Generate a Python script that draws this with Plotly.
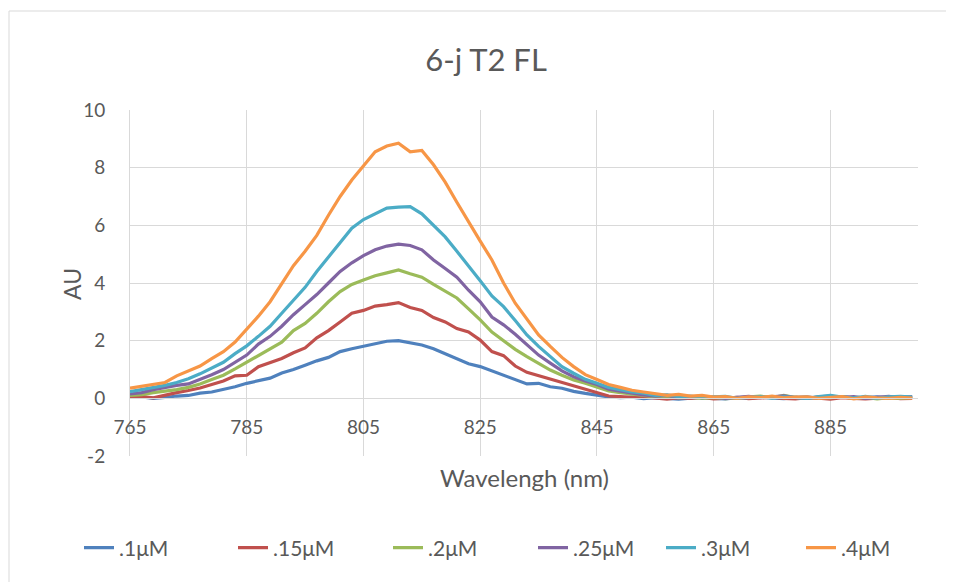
import plotly.graph_objects as go

# ── Data (2 nm steps) ───────────────────────────────────────────────────────────
wavelength = list(range(765, 901, 2))

au_01 = [0.10, 0.06, 0.00, 0.03, 0.08, 0.10, 0.18, 0.22, 0.30, 0.40,
         0.52, 0.62, 0.70, 0.88, 1.00, 1.15, 1.30, 1.42, 1.62, 1.72,
         1.80, 1.90, 1.98, 2.00, 1.92, 1.85, 1.72, 1.55, 1.38, 1.20,
         1.10, 0.95, 0.82, 0.65, 0.50, 0.52, 0.40, 0.35, 0.24, 0.17,
         0.10, 0.05, 0.02, 0.04, -0.01, 0.02, 0.00, -0.03, 0.01, 0.03,
         0.00, -0.02, 0.02, 0.00, 0.04, 0.01, -0.01, 0.03, 0.05, 0.00,
         0.02, 0.06, 0.01, 0.03, 0.05, 0.02, 0.06, 0.04]

au_015 = [0.05, 0.06, 0.02, 0.12, 0.20, 0.27, 0.36, 0.48, 0.60, 0.78,
          0.80, 1.10, 1.25, 1.38, 1.58, 1.75, 2.10, 2.35, 2.65, 2.95,
          3.05, 3.20, 3.25, 3.32, 3.15, 3.05, 2.80, 2.65, 2.42, 2.30,
          2.02, 1.62, 1.48, 1.12, 0.90, 0.78, 0.68, 0.55, 0.42, 0.32,
          0.20, 0.08, 0.06, 0.03, 0.05, 0.00, -0.03, 0.02, 0.00, 0.03,
          -0.02, 0.01, 0.03, -0.01, 0.02, 0.04, 0.00, -0.02, 0.02, 0.01,
          -0.03, 0.02, 0.00, -0.02, 0.01, 0.03, -0.01, 0.00]

au_02 = [0.10, 0.13, 0.20, 0.25, 0.30, 0.38, 0.50, 0.65, 0.80, 1.02,
         1.25, 1.50, 1.72, 1.95, 2.35, 2.60, 2.95, 3.35, 3.70, 3.95,
         4.10, 4.25, 4.35, 4.45, 4.32, 4.20, 3.95, 3.70, 3.48, 3.10,
         2.72, 2.30, 2.00, 1.70, 1.45, 1.20, 0.98, 0.80, 0.64, 0.52,
         0.40, 0.26, 0.20, 0.14, 0.10, 0.05, 0.07, 0.02, 0.04, 0.00,
         0.03, -0.01, 0.02, 0.05, 0.08, 0.02, 0.10, 0.03, 0.00, 0.04,
         0.02, 0.06, 0.00, 0.03, -0.02, 0.02, 0.00, 0.03]

au_025 = [0.15, 0.20, 0.30, 0.38, 0.45, 0.50, 0.65, 0.82, 1.00, 1.25,
          1.50, 1.88, 2.15, 2.50, 2.90, 3.25, 3.60, 4.00, 4.40, 4.70,
          4.95, 5.15, 5.28, 5.35, 5.30, 5.15, 4.80, 4.50, 4.20, 3.75,
          3.35, 2.82, 2.55, 2.22, 1.85, 1.50, 1.22, 0.95, 0.75, 0.60,
          0.48, 0.32, 0.25, 0.18, 0.12, 0.08, 0.10, 0.04, 0.06, 0.02,
          0.04, 0.00, 0.03, 0.07, 0.02, 0.05, 0.09, 0.03, 0.00, 0.05,
          0.08, 0.03, 0.06, 0.00, 0.04, 0.07, 0.02, 0.05]

au_03 = [0.23, 0.30, 0.38, 0.45, 0.55, 0.68, 0.85, 1.05, 1.25, 1.55,
         1.82, 2.15, 2.50, 2.95, 3.40, 3.85, 4.40, 4.90, 5.38, 5.90,
         6.20, 6.40, 6.60, 6.63, 6.65, 6.40, 6.00, 5.60, 5.10, 4.60,
         4.08, 3.55, 3.18, 2.70, 2.20, 1.80, 1.45, 1.10, 0.87, 0.66,
         0.52, 0.38, 0.30, 0.22, 0.18, 0.10, 0.12, 0.06, 0.08, 0.02,
         0.05, 0.07, 0.00, 0.04, 0.06, 0.01, 0.05, 0.03, 0.00, 0.06,
         0.10, 0.04, 0.02, 0.07, 0.00, 0.05, 0.07, 0.04]

au_04 = [0.35, 0.42, 0.48, 0.55, 0.78, 0.95, 1.12, 1.38, 1.62, 1.95,
         2.40, 2.85, 3.35, 3.95, 4.60, 5.10, 5.65, 6.35, 7.00, 7.57,
         8.05, 8.55, 8.75, 8.85, 8.55, 8.60, 8.10, 7.50, 6.80, 6.10,
         5.45, 4.80, 4.00, 3.30, 2.75, 2.20, 1.80, 1.42, 1.10, 0.82,
         0.65, 0.48, 0.38, 0.28, 0.22, 0.17, 0.10, 0.14, 0.08, 0.10,
         0.04, 0.06, 0.00, 0.05, 0.03, 0.08, 0.02, 0.04, 0.05, 0.00,
         0.03, 0.06, -0.02, 0.05, 0.02, 0.00, 0.03, 0.01]

series_names = [".1μM", ".15μM", ".2μM", ".25μM", ".3μM", ".4μM"]
series_values = [au_01, au_015, au_02, au_025, au_03, au_04]
colors = ["#4F81BD", "#C0504D", "#9BBB59", "#8064A2", "#4BACC6", "#F79646"]

x_ticks = [765, 785, 805, 825, 845, 865, 885]
y_ticks = [-2, 0, 2, 4, 6, 8, 10]
y_tick_text = ["-2", "0", "2", "4", "6", "8", "10"]

FONT = "Lato, 'Open Sans', sans-serif"
GREY = "#595959"
GRID = "#D9D9D9"

# page body has an 8px margin, so the figure is 8px smaller than the window
W, H = 946, 574
L, R, T, B = 122, 36, 102, 126
PW, PH = W - L - R, H - T - B   # plot area in px

# left edge (page px) of each legend entry in the reference
legend_px = [89, 243, 398, 543, 671, 811]

# ── Figure ─────────────────────────────────────────────────────────────────────
fig = go.Figure()

legend_layouts = {}
for i, (name, vals, col) in enumerate(zip(series_names, series_values, colors)):
    key = "legend" if i == 0 else f"legend{i + 1}"
    fig.add_trace(go.Scatter(
        x=wavelength, y=vals,
        mode="lines",
        name=name,
        legend=key,
        line=dict(color=col, width=3.2),
    ))
    legend_layouts[key] = dict(
        orientation="h",
        xref="container", yref="container",
        x=(legend_px[i] - 8 - 10) / W, xanchor="left",
        y=1 - (548 - 8) / H, yanchor="middle",
        font=dict(size=21, color=GREY),
        bgcolor="rgba(0,0,0,0)",
    )

fig.update_layout(
    width=W, height=H,
    paper_bgcolor="#ffffff",
    plot_bgcolor="#ffffff",
    margin=dict(l=L, r=R, t=T, b=B, autoexpand=False),
    font=dict(family=FONT, size=19, color=GREY),
    title=dict(
        text="6-j T2 FL",
        x=(486 - 8) / W, xanchor="center",
        y=1 - (60 - 8) / H, yanchor="middle",
        font=dict(size=31, color=GREY),
    ),
    showlegend=True,
    **legend_layouts,
)

fig.update_xaxes(
    range=[765, 900],
    tickvals=x_ticks,
    showgrid=True, gridcolor=GRID, gridwidth=1,
    zeroline=False,
    showline=True, linecolor=GRID, linewidth=1,
    anchor="free", position=2 / 12,
    ticks="", ticklen=0, ticklabelstandoff=12,
    tickfont=dict(size=19, color=GREY),
)

fig.update_yaxes(
    range=[-2, 10],
    tickvals=y_ticks, ticktext=y_tick_text,
    showgrid=True, gridcolor=GRID, gridwidth=1,
    zeroline=False,
    showline=True, linecolor=GRID, linewidth=1,
    ticks="", ticklen=0, ticklabelstandoff=20,
    tickfont=dict(size=19, color=GREY),
)

# axis titles as annotations (x axis crosses at 0, its title sits below the plot)
fig.add_annotation(
    text="Wavelengh (nm)",
    xref="paper", yref="paper",
    x=0.5, y=-(478 - 456) / PH,
    xanchor="center", yanchor="middle",
    showarrow=False,
    font=dict(size=24, color=GREY),
)
fig.add_annotation(
    text="AU",
    xref="paper", yref="paper",
    x=(72 - 8 - L) / PW, y=(456 - 284) / PH,
    xanchor="center", yanchor="middle",
    textangle=-90,
    showarrow=False,
    font=dict(size=23, color=GREY),
)

# chart area border
fig.add_shape(
    type="rect", xref="paper", yref="paper",
    x0=(1 - L) / PW, x1=(944 - L) / PW,
    y0=(PH + 8 - H + T) / PH - 0.2, y1=(PH + T - 3) / PH,
    line=dict(color=GRID, width=1),
    layer="below",
)

fig.write_html("out.html")
